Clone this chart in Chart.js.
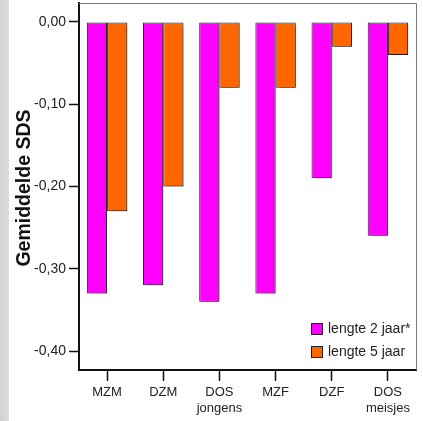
<!DOCTYPE html>
<html lang="nl">
<head>
    <meta charset="UTF-8">
    <title>Gemiddelde SDS</title>
    <script src="https://cdn.jsdelivr.net/npm/chart.js"></script>
    <style>
        body {
            margin: 0;
            padding: 0;
            background: #fff;
        }
        #wrap {
            width: 423px;
            height: 421px;
            background: linear-gradient(to right, #d2d2d2 0, #dcdcdc 9px, #fff 9px);
        }
        canvas { display: block; }
    </style>
</head>
<body>
    <div id="wrap">
        <canvas id="sdsChart" width="423" height="421"></canvas>
    </div>

    <script>
        // data
        const categories = [['MZM'], ['DZM'], ['DOS', 'jongens'], ['MZF'], ['DZF'], ['DOS', 'meisjes']];
        const seriesNames = ['lengte 2 jaar*', 'lengte 5 jaar'];
        const lengte2 = [-0.33, -0.32, -0.34, -0.33, -0.19, -0.26];
        const lengte5 = [-0.23, -0.20, -0.08, -0.08, -0.03, -0.04];
        const yTicks = [0, -0.1, -0.2, -0.3, -0.4];

        const tickFont = "Arial, 'Liberation Sans', sans-serif";

        // bar shadows like the original
        const shadowPlugin = {
            id: 'shadow',
            beforeDatasetsDraw(chart) {
                const c = chart.ctx;
                c.save();
                c.shadowColor = 'rgba(0,0,0,0.3)';
                c.shadowOffsetX = 2;
                c.shadowOffsetY = 2;
                c.shadowBlur = 1;
            },
            afterDatasetsDraw(chart) {
                chart.ctx.restore();
            }
        };

        // frame, y title and legend inside the plot
        const extrasPlugin = {
            id: 'extras',
            afterDraw(chart) {
                const c = chart.ctx;
                const a = chart.chartArea;
                c.save();
                c.strokeStyle = '#7a7a7a';
                c.lineWidth = 1;
                c.beginPath();
                c.moveTo(a.left, a.top + 0.5);
                c.lineTo(a.right + 0.5, a.top + 0.5);
                c.lineTo(a.right + 0.5, a.bottom);
                c.stroke();

                // y title
                c.save();
                c.translate(25, 188);
                c.rotate(-Math.PI / 2);
                c.font = 'bold 19.5px Arial, sans-serif';
                c.fillStyle = '#111';
                c.textAlign = 'center';
                c.textBaseline = 'middle';
                c.fillText('Gemiddelde SDS', 0, 0);
                c.restore();

                // legend
                const ds = chart.data.datasets;
                c.font = '14px ' + tickFont;
                c.textBaseline = 'middle';
                c.textAlign = 'left';
                ds.forEach((d, i) => {
                    const y = 329 + i * 23;
                    c.fillStyle = d.backgroundColor;
                    c.fillRect(311.5, y - 5.5, 11, 11);
                    c.strokeStyle = '#222';
                    c.lineWidth = 1;
                    c.strokeRect(311.5, y - 5.5, 11, 11);
                    c.fillStyle = '#222';
                    c.fillText(d.label, 328, y);
                });
                c.restore();
            }
        };

        const ctx = document.getElementById('sdsChart').getContext('2d');
        const sdsChart = new Chart(ctx, {
            type: 'bar',
            data: {
                labels: categories,
                datasets: [
                    {
                        label: seriesNames[0],
                        data: lengte2,
                        backgroundColor: '#ff00ff',
                        borderColor: '#222',
                        borderWidth: 1,
                        borderSkipped: false
                    },
                    {
                        label: seriesNames[1],
                        data: lengte5,
                        backgroundColor: '#ff6600',
                        borderColor: '#222',
                        borderWidth: 1,
                        borderSkipped: false
                    }
                ]
            },
            options: {
                responsive: false,
                animation: false,
                devicePixelRatio: 1,
                datasets: {
                    bar: { categoryPercentage: 0.72, barPercentage: 1.0 }
                },
                layout: { padding: { left: 0, top: 3, right: 7, bottom: 0 } },
                plugins: {
                    legend: { display: false },
                    tooltip: { enabled: false }
                },
                scales: {
                    x: {
                        afterFit(scale) {
                            scale.height = 51;
                            scale.paddingLeft = 0;
                            scale.paddingRight = 0;
                        },
                        grid: {
                            offset: false,
                            drawOnChartArea: false,
                            drawTicks: true,
                            tickLength: 11,
                            tickWidth: 1.5,
                            tickColor: '#111'
                        },
                        border: { color: '#111', width: 2 },
                        ticks: {
                            color: '#222',
                            padding: 4,
                            maxRotation: 0,
                            autoSkip: false,
                            font: { family: tickFont, size: 13, lineHeight: 1.2 }
                        }
                    },
                    y: {
                        min: -0.4231,
                        max: 0.0231,
                        afterFit(scale) {
                            scale.width = 79;
                            scale.paddingTop = 0;
                            scale.paddingBottom = 0;
                        },
                        afterBuildTicks(scale) {
                            scale.ticks = yTicks.map(v => ({ value: v }));
                        },
                        grid: {
                            drawOnChartArea: false,
                            drawTicks: true,
                            tickLength: 10,
                            tickWidth: 1.5,
                            tickColor: '#111'
                        },
                        border: { color: '#111', width: 2 },
                        ticks: {
                            color: '#222',
                            padding: 3,
                            font: { family: tickFont, size: 14 },
                            callback: v => (Math.round(v * 100) / 100).toFixed(2).replace('.', ',')
                        }
                    }
                }
            },
            plugins: [shadowPlugin, extrasPlugin]
        });
    </script>
</body>
</html>
